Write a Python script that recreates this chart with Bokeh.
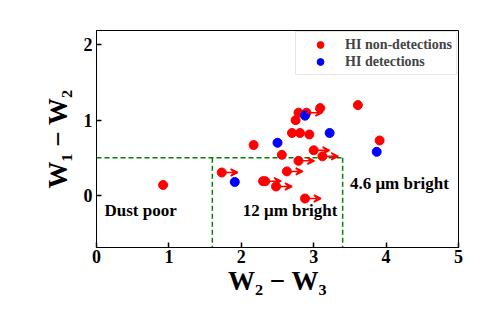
from bokeh.plotting import figure
from bokeh.models import ColumnDataSource, Arrow, VeeHead, Label
from bokeh.embed import file_html
from bokeh.resources import INLINE

# HI non-detections (red)
non_x = [0.92, 1.73, 2.17, 2.30, 2.33, 2.48, 2.56, 2.63, 2.70, 2.75, 2.79, 2.81,
         2.79, 2.88, 2.90, 2.94, 3.00, 3.09, 3.12, 3.61, 3.91]
non_y = [0.14, 0.305, 0.67, 0.19, 0.19, 0.12, 0.54, 0.32, 0.83, 1.00, 1.10, 0.83,
         0.46, -0.04, 1.10, 0.81, 0.60, 1.16, 0.52, 1.20, 0.73]
# lower limits in W2-W3 (arrows)
lim_x = [1.73, 2.33, 2.48, 2.63, 2.79, 2.88, 2.90, 3.00, 3.12]
lim_y = [0.305, 0.19, 0.12, 0.32, 0.46, -0.04, 1.10, 0.60, 0.52]
arrow_len = 0.22

# HI detections (blue)
det_x = [1.91, 2.50, 2.88, 3.22, 3.87]
det_y = [0.18, 0.70, 1.06, 0.83, 0.58]

# region boundaries
box_y = 0.5
box_x1 = 1.6
box_x2 = 3.4

FONT = "Liberation Serif"
Y0, Y1 = -0.69, 2.19

p = figure(frame_width=362, frame_height=217, x_range=(0, 5), y_range=(Y0, Y1),
           output_backend="svg", toolbar_location=None,
           min_border_left=96, min_border_top=30, min_border_right=25, min_border_bottom=72)

p.grid.visible = False
p.outline_line_color = "black"
p.outline_line_width = 1
p.background_fill_color = "white"
p.border_fill_color = "white"

for ax in (p.xaxis[0], p.yaxis[0]):
    ax.major_tick_in = 5
    ax.major_tick_out = 0
    ax.minor_tick_line_color = None
    ax.major_tick_line_width = 1.5
    ax.axis_line_width = 1
    ax.major_label_text_font = FONT
    ax.major_label_text_font_style = "bold"
    ax.major_label_text_font_size = "18px"
    ax.major_label_text_color = "black"
    ax.axis_label_text_font = FONT
    ax.axis_label_text_font_style = "bold"
    ax.axis_label_text_font_size = "27px"
    ax.axis_label_text_color = "black"

p.xaxis.ticker = [0, 1, 2, 3, 4, 5]
p.yaxis.ticker = [0, 1, 2]
p.xaxis.axis_label = "W\u2082 \u2212 W\u2083"
p.yaxis.axis_label = "W\u2081 \u2212 W\u2082"
p.xaxis.major_label_standoff = 2
p.xaxis.axis_label_standoff = 0
p.yaxis.major_label_standoff = 4
p.yaxis.axis_label_standoff = 8

# dashed region boundaries
green = "#008000"
p.line(x=[0, box_x2], y=[box_y, box_y], line_color=green, line_dash="5 3", line_width=1.5)
p.line(x=[box_x1, box_x1], y=[box_y, Y0], line_color=green, line_dash="5 3", line_width=1.5)
p.line(x=[box_x2, box_x2], y=[box_y, Y0], line_color=green, line_dash="5 3", line_width=1.5)

# arrows
arr_src = ColumnDataSource(dict(x0=lim_x, y0=lim_y,
                                x1=[v + arrow_len for v in lim_x], y1=lim_y))
p.add_layout(Arrow(source=arr_src, x_start="x0", y_start="y0", x_end="x1", y_end="y1",
                   line_color="red", line_width=1.5,
                   end=VeeHead(size=7, line_color="red", line_width=1.5, fill_color="red")))

p.scatter(non_x, non_y, size=9, color="red", legend_label="HI non-detections")
p.scatter(det_x, det_y, size=9, color="blue", legend_label="HI detections")

# region labels
for txt, x, y in [("Dust poor", 0.11, -0.2), ("12 \u03bcm bright", 2.02, -0.2),
                  ("4.6 \u03bcm bright", 3.50, 0.16)]:
    p.add_layout(Label(x=x, y=y, text=txt, text_font=FONT, text_font_style="bold",
                       text_font_size="17px", text_baseline="middle", text_color="black"))

lg = p.legend[0]
lg.location = "top_right"
lg.margin = 1
lg.padding = 4
lg.spacing = 0
lg.label_text_font = FONT
lg.label_text_font_style = "bold"
lg.label_text_font_size = "14px"
lg.label_height = 17
lg.glyph_height = 17
lg.glyph_width = 40
lg.label_standoff = 5
lg.border_line_color = "#cccccc"
lg.border_line_width = 1
lg.background_fill_alpha = 1

open("out.html", "w").write(file_html(p, INLINE))
